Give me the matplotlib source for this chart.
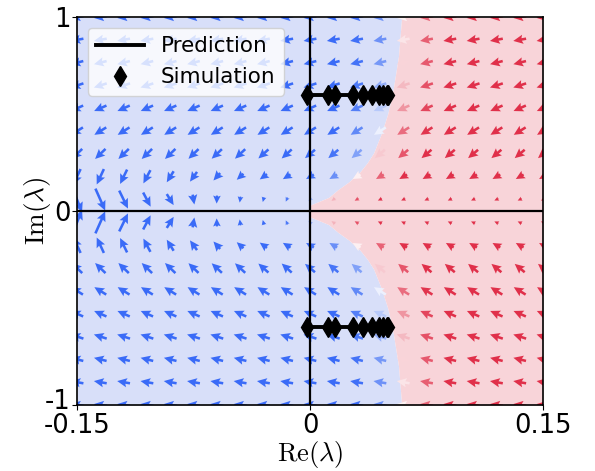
import numpy as np
import matplotlib
matplotlib.use("Agg")
import matplotlib.pyplot as plt
import matplotlib.transforms as mtransforms
from matplotlib.colors import LinearSegmentedColormap, Normalize

plt.rcParams["mathtext.fontset"] = "cm"

# ---------------- data ----------------
re_grid = np.linspace(-0.15, 0.15, 21)          # arrow columns (Re)
im_grid = np.linspace(1.0, -1.0, 18)            # arrow rows (Im), top to bottom

# arrow directions (degrees, math convention) per row (top -> bottom), per column (left -> right)
ANGLE = [
    [188]*21,
    [190]*21,
    [194]*21,
    [198]*21,
    [204]*21,
    [212]*21,
    [224, 224, 224, 224, 224, 224, 223, 223, 222, 222, 220, 220, 220, 220, 220, 220, 220, 220, 220, 220, 220],
    [245, 245, 244, 242, 238, 234, 228, 222, 216, 212, 210, 210, 210, 210, 210, 210, 210, 210, 210, 210, 210],
    [292, 294, 296, 298, 302, 280, 268, 262, 255, 245, 225, 215, 210, 205, 205, 205, 205, 205, 205, 205, 205],
    [68, 66, 64, 62, 58, 80, 92, 98, 105, 115, 135, 145, 150, 155, 155, 155, 155, 155, 155, 155, 155],
    [115, 115, 116, 118, 122, 126, 132, 138, 144, 148, 150, 150, 150, 150, 150, 150, 150, 150, 150, 150, 150],
    [136, 136, 136, 136, 136, 136, 137, 137, 138, 138, 140, 140, 140, 140, 140, 140, 140, 140, 140, 140, 140],
    [148]*21,
    [156]*21,
    [162]*21,
    [166]*21,
    [170]*21,
    [172]*21,
]
# arrow lengths (pixels)
LENGTH = [
    [13]*21,
    [13]*21,
    [13]*21,
    [13.5]*21,
    [13.5]*21,
    [14]*21,
    [14.5, 14.5, 14.5, 14.5, 14.5, 14, 14, 14, 13.5, 13.5, 13, 13, 13, 13, 13, 13, 13, 13, 13, 13, 13],
    [17, 17, 16, 15, 13, 12, 10, 9, 9, 9, 9, 9, 9, 9, 9, 9, 9, 9, 9, 9, 9],
    [27, 24, 20, 16, 13, 10, 8, 6, 5, 4.5, 4.5, 4.5, 4.5, 4.5, 4.5, 4.5, 4.5, 4.5, 4.5, 4.5, 4.5],
    [27, 24, 20, 16, 13, 10, 8, 6, 5, 4.5, 4.5, 4.5, 4.5, 4.5, 4.5, 4.5, 4.5, 4.5, 4.5, 4.5, 4.5],
    [17, 17, 16, 15, 13, 12, 10, 9, 9, 9, 9, 9, 9, 9, 9, 9, 9, 9, 9, 9, 9],
    [14.5, 14.5, 14.5, 14.5, 14.5, 14, 14, 14, 13.5, 13.5, 13, 13, 13, 13, 13, 13, 13, 13, 13, 13, 13],
    [14]*21,
    [13.5]*21,
    [13.5]*21,
    [13]*21,
    [13]*21,
    [13]*21,
]

# stability boundary (Re as function of |Im|)
bound_im = [0.0, 0.03, 0.07, 0.11, 0.15, 0.20, 0.25, 0.30, 0.40, 0.50, 0.60, 0.70, 0.80, 0.90, 1.00]
bound_re = [0.0, 0.0, 0.012, 0.018, 0.025, 0.032, 0.037, 0.041, 0.046, 0.050, 0.053, 0.055, 0.057, 0.058, 0.059]

# prediction and simulation
pred_re = [-0.002, 0.05]
pred_im = 0.6
sim_re = [-0.002, 0.0113, 0.0164, 0.0274, 0.0338, 0.0396, 0.0441, 0.0467, 0.0493, 0.0505]

xticks = [-0.15, 0.0, 0.15]
xticklabels = ["-0.15", "0", "0.15"]
yticks = [-1, 0, 1]
yticklabels = ["-1", "0", "1"]

# ---------------- styles ----------------
BLUE = "#3a6bf7"
RED = "#e0304a"
BG_BLUE = "#d8dff9"
BG_RED = "#f8d4d9"

fig = plt.figure(figsize=(5.95, 4.71), dpi=100)
ax = fig.add_axes([77/595, 1-405/471, 466/595, 388/471])

# background regions
bi = np.array(bound_im)
br = np.array(bound_re)
yy = np.concatenate([-bi[::-1], bi[1:]])
xx = np.concatenate([br[::-1], br[1:]])
ax.fill_betweenx(yy, -0.15, xx, color=BG_BLUE, lw=0, zorder=0)
ax.fill_betweenx(yy, xx, 0.15, color=BG_RED, lw=0, zorder=0)

# arrows
X, Y = np.meshgrid(re_grid, im_grid)
A = np.deg2rad(np.array(ANGLE, dtype=float))
L = np.array(LENGTH, dtype=float)
U = L*np.cos(A)
V = L*np.sin(A)
dist = X - np.interp(np.abs(Y), bi, br)
cmap = LinearSegmentedColormap.from_list(
    "bwr2", [(0.0, BLUE), (0.3, "#6f93f7"), (0.5, "#ffffff"), (0.7, "#ea7283"), (1.0, RED)])
cols = cmap(Normalize(-1, 1)(np.clip(dist/0.03, -1, 1)).ravel())
ax.quiver(X, Y, U, V, color=cols, angles="uv", scale_units="dots", scale=1,
          pivot="middle", width=0.0055, headwidth=3.6, headlength=3.8,
          headaxislength=3.3, zorder=2)

# axes lines
ax.axhline(0, color="black", lw=1.6, zorder=3)
ax.axvline(0, color="black", lw=1.6, zorder=3)

# prediction and simulation
for s in (1, -1):
    ax.plot(pred_re, [s*pred_im]*2, color="black", lw=2.8, zorder=4,
            label="Prediction" if s == 1 else None)
    ax.plot(sim_re, [s*pred_im]*len(sim_re), ls="none", marker="d", ms=10.5,
            color="black", zorder=5, label="Simulation" if s == 1 else None)

ax.set_xlim(-0.15, 0.15)
ax.set_ylim(-1, 1)
ax.set_xticks(xticks)
ax.set_xticklabels(xticklabels)
ax.set_yticks(yticks)
ax.set_yticklabels(yticklabels)
ax.tick_params(axis="x", labelsize=18.5, pad=2.2)
ax.tick_params(axis="y", labelsize=18.5, pad=1)
# nudge the bottom y label up a little
lab = ax.get_yticklabels()[0]
lab.set_transform(lab.get_transform() + mtransforms.ScaledTranslation(0, 6/100, fig.dpi_scale_trans))
ax.set_xlabel(r"$\mathrm{Re}(\lambda)$", fontsize=19, labelpad=0)
ax.set_ylabel(r"$\mathrm{Im}(\lambda)$", fontsize=19.5, labelpad=-6)
for sp in ax.spines.values():
    sp.set_linewidth(1.2)

ax.legend(loc="upper left", fontsize=15.5, handlelength=2.2, handletextpad=0.8)

fig.savefig("out.png", dpi=100)
